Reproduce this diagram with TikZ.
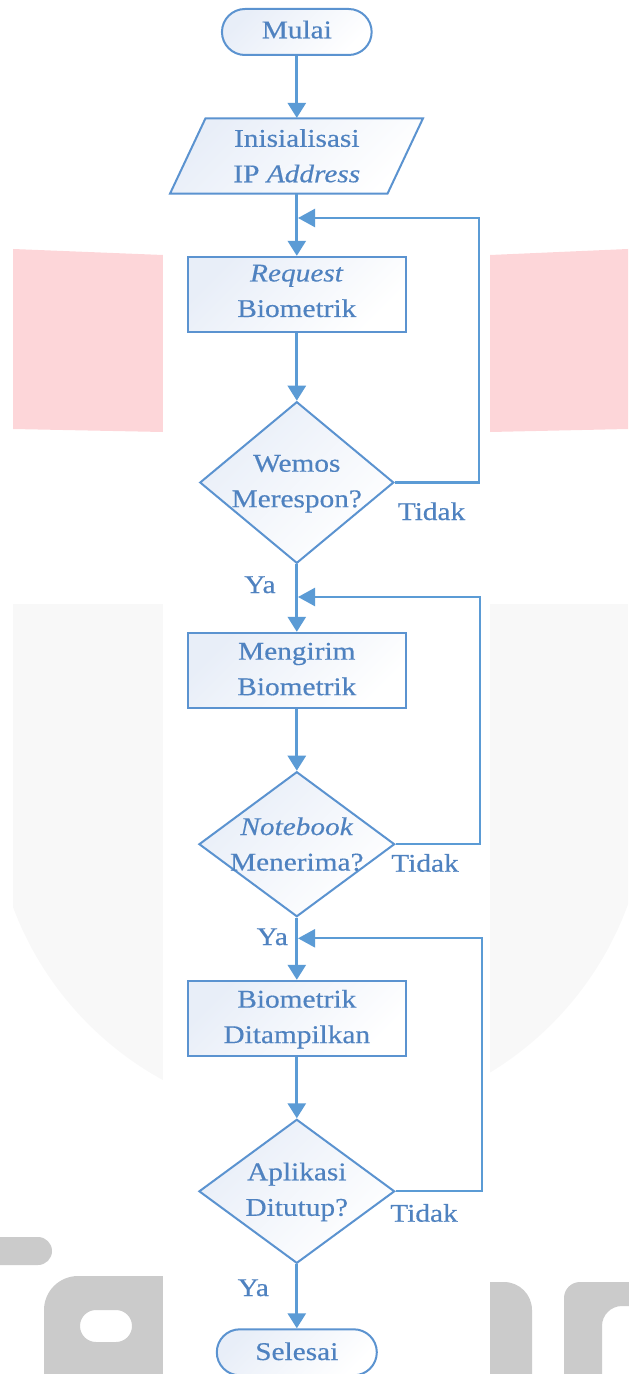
\documentclass[tikz,border=0pt]{standalone}
\usepackage{fontspec}
\setmainfont{Liberation Serif}[FakeStretch=1.15,FakeBold=0.4]
\usetikzlibrary{arrows.meta,shapes.geometric}
\definecolor{lineblue}{HTML}{5B9BD5}
\definecolor{edgeblue}{HTML}{5B93D0}
\definecolor{txtblue}{HTML}{4F82C0}
\definecolor{fillblue}{HTML}{E8EEF8}
\definecolor{wmpink}{HTML}{FDD6D9}
\definecolor{wmgrey}{HTML}{F8F8F8}
\definecolor{wmdark}{HTML}{CBCBCB}
\begin{document}
\begin{tikzpicture}[x=0.5pt,y=-0.5pt,
  shapebase/.style={draw=edgeblue, line width=1pt, top color=fillblue, bottom color=white, shading angle=45, inner sep=0pt},
  procbox/.style={shapebase, rectangle, minimum width=108.75pt, minimum height=37.5pt},
  decbox/.style={shapebase, diamond},
  termbox/.style={shapebase, rectangle, rounded corners=11.5pt, minimum height=23pt},
  txt/.style={text=txtblue, align=center, inner sep=0pt, font=\fontsize{12.75pt}{17.75pt}\selectfont},
  flow/.style={draw=lineblue, line width=1.35pt, -{Triangle[length=7.5pt,width=9pt]}},
  loopline/.style={draw=lineblue, line width=1.15pt, shorten >=0.6pt, -{Triangle[length=8.5pt,width=9pt]}},
]
\useasboundingbox (0,0) rectangle (628,1374);
% ---- watermark background ----
\fill[wmpink] (13,249) -- (163,255) -- (163,432) -- (13,429) -- cycle;
\fill[wmpink] (490,255) -- (628,249) -- (628,429) -- (490,432) -- cycle;
\begin{scope}
  \clip (13,604) rectangle (628,1374);
  \fill[wmgrey] (13,604) rectangle (628,793);
  \fill[wmgrey] (320,792.5) circle[radius=327.6];
\end{scope}
\fill[wmdark, rounded corners=7pt] (-40,1237) rectangle (52,1265);
\fill[wmdark, even odd rule, rounded corners=17pt] (44,1276) rectangle (220,1420)
  [rounded corners=8pt] (80,1310) rectangle (132,1342);
\fill[wmdark, rounded corners=14pt] (440,1282) rectangle (532,1420);
\fill[wmdark, even odd rule, rounded corners=8pt] (564,1282) rectangle (700,1420)
  [rounded corners=10pt] (602,1306) rectangle (700,1440);
\fill[white] (163,0) rectangle (490,1374);
% ---- shapes ----
\node[termbox, minimum width=74.85pt] (mulai) at (296.8,32) {};
\path[shapebase] (205.5,118.3) -- (423,118.3) -- (387.5,193.7) -- (170,193.7) -- cycle;
\node[minimum width=1pt, minimum height=37.7pt, inner sep=0pt] (io) at (296.8,156) {};
\node[procbox] (b1) at (296.8,294.3) {};
\node[decbox, minimum width=97pt, minimum height=80.8pt] (d1) at (296.8,482.5) {};
\node[procbox] (b2) at (296.8,670.3) {};
\node[decbox, minimum width=97.85pt, minimum height=72.5pt] (d2) at (296.8,844.2) {};
\node[procbox] (b3) at (296.8,1018.3) {};
\node[decbox, minimum width=97.85pt, minimum height=72pt] (d3) at (296.8,1191.3) {};
\node[termbox, minimum width=80pt] (selesai) at (296.8,1352.3) {};
% ---- texts ----
\node[txt, anchor=base] (tmulai) at (296.8,38.3) {Mulai};
\node[txt] (tio) at (296.8,155.8) {Inisialisasi\\IP \textit{Address}};
\node[txt] (tb1) at (296.8,291) {\textit{Request}\\Biometrik};
\node[txt] (td1) at (296.8,483.8) {Wemos\\Merespon?};
\node[txt] (tb2) at (296.8,669.1) {Mengirim\\Biometrik};
\node[txt] (td2) at (296.8,844.1) {\textit{Notebook}\\Menerima?};
\node[txt] (tb3) at (296.8,1019.2) {Biometrik\\Ditampilkan};
\node[txt] (td3) at (296.8,1191.9) {Aplikasi\\Ditutup?};
\node[txt, anchor=base] (tselesai) at (296.8,1360) {Selesai};
% ---- labels ----
\node[txt, anchor=base] (no1) at (431.5,520) {Tidak};
\node[txt, anchor=base] (no2) at (425,871.7) {Tidak};
\node[txt, anchor=base] (no3) at (424,1221.7) {Tidak};
\node[txt, anchor=base] (ya1) at (260,593) {Ya};
\node[txt, anchor=base] (ya2) at (272.3,945) {Ya};
\node[txt, anchor=base] (ya3) at (253.3,1296) {Ya};
% ---- connectors ----
\draw[flow] (mulai) -- (io);
\draw[flow] (io) -- (b1);
\draw[flow] (b1) -- (d1);
\draw[flow] (d1) -- (b2);
\draw[flow] (b2) -- (d2);
\draw[flow] (d2) -- (b3);
\draw[flow] (b3) -- (d3);
\draw[flow] (d3) -- (selesai);
\coordinate (j1) at (296.8,218);
\coordinate (k1) at (479,218);
\coordinate (j2) at (296.8,597);
\coordinate (k2) at (480,597);
\coordinate (j3) at (296.8,938.3);
\coordinate (k3) at (481.7,938.3);
\draw[loopline] (d1.east) -| (k1) -- (j1);
\draw[loopline] (d2.east) -| (k2) -- (j2);
\draw[loopline] (d3.east) -| (k3) -- (j3);
\end{tikzpicture}
\end{document}
